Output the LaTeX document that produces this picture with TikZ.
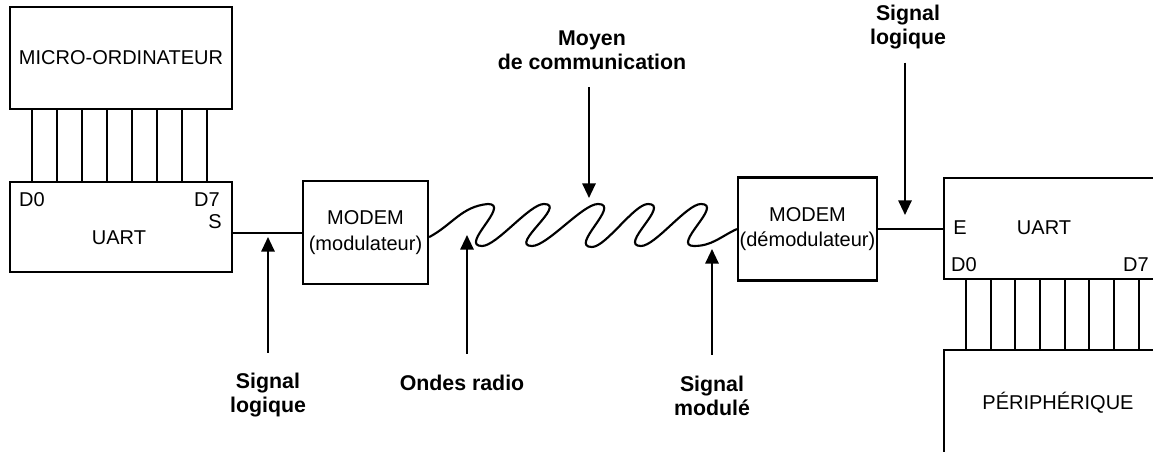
\documentclass[tikz,border=0pt]{standalone}
\usepackage{fontspec}
\setmainfont{Liberation Sans}
\usepackage{tikz}
\usetikzlibrary{positioning,arrows.meta,calc}

\tikzset{
  boite/.style={draw, line width=1.6pt, inner sep=0pt, align=center,
    font=\fontsize{15}{19}\selectfont},
  txt/.style={inner sep=0pt, font=\fontsize{15}{19}\selectfont},
  lbl/.style={inner sep=0pt, align=center, font=\bfseries\fontsize{16}{18}\selectfont},
  fleche/.style={-{Triangle[length=11pt,width=10pt]}, line width=1.5pt},
  bus/.style={line width=1.5pt},
  onde/.style={line width=1.6pt},
  monte/.style={out=0, in=180, looseness=0.5},
  descend/.style={out=0, in=180, looseness=1.4}
}

\begin{document}
\begin{tikzpicture}[x=0.75pt, y=-0.75pt]
    \useasboundingbox (0,0) rectangle (1153,452);
    \clip (0,0) rectangle (1153,452);

    \node[boite, minimum width=166.5pt, minimum height=76.5pt] (micro) at (121,58) {MICRO-ORDINATEUR};
    \node[boite, minimum width=166.5pt, minimum height=67.5pt] (uartA) at (121,227) {};
    \node[txt] (d0A) at (32,200) {D0};
    \node[txt] (d7A) at (207,200) {D7};
    \node[txt] (nomA) at (119,238) {UART};
    \node[txt] (sA) at (215,222) {S};

    \node[boite, minimum width=93.75pt, minimum height=77.25pt] (modemA) at (365.5,232.5) {MODEM\\(modulateur)};
    \node[boite, minimum width=104.25pt, minimum height=77.25pt] (modemB) at (807.5,229) {MODEM\\(démodulateur)};

    \node[boite, minimum width=165.75pt, minimum height=75.75pt] (uartB) at (1054.5,228.5) {};
    \node[txt] (eB) at (960,228) {E};
    \node[txt] (nomB) at (1044,228) {UART};
    \node[txt] (d0B) at (964,265) {D0};
    \node[txt] (d7B) at (1136,265) {D7};
    \node[boite, minimum width=165.75pt, minimum height=82.5pt] (periph) at (1054.5,405) {};
    \node[txt] (nomP) at (1058,403) {PÉRIPHÉRIQUE};

    \foreach \i in {0,...,7}
        \draw[bus] ([xshift={17.25pt+18.75pt*\i}]micro.south west) -- ([xshift={17.25pt+18.75pt*\i}]uartA.north west);
    \foreach \i in {0,...,7}
        \draw[bus] ([xshift={17.25pt+18.5pt*\i}]uartB.south west) -- ([xshift={17.25pt+18.5pt*\i}]periph.north west);

    \coordinate (ligneA) at (232,233);
    \draw[bus] (ligneA) -- (ligneA -| modemA.west);
    \draw[bus] (modemB.east) -- (modemB.east -| uartB.west);

    \draw[onde] ([yshift=-3.5pt]modemA.east) to[out=28, in=185] (488,204)
        to[descend] (482,246) to[monte] (544,204)
        to[descend] (532,246) to[monte] (598,204)
        to[descend] (592,247) to[monte] (648,204)
        to[descend] (641,246) to[monte] (701,204)
        to[descend] (694,246) to[out=0, in=205] (modemB.west);

    \coordinate (pointeA) at (268,237);
    \coordinate (pointeB) at (467,235);
    \coordinate (pointeC) at (712,249);
    \coordinate (pointeM) at (589,198);
    \coordinate (pointeE) at (905,215);

    \node[lbl] (sigA) at (268,395) {Signal\\logique};
    \node[lbl] (ondes) at (462,383) {Ondes radio};
    \node[lbl] (sigC) at (712,396) {Signal\\modulé};
    \node[lbl] (moyen) at (592,50) {Moyen\\de communication};
    \node[lbl] (sigE) at (908,27) {Signal\\logique};

    \draw[fleche, shorten <=15pt] (sigA.north -| pointeA) -- (pointeA);
    \draw[fleche, shorten <=16pt] (ondes.north -| pointeB) -- (pointeB);
    \draw[fleche, shorten <=16pt] (sigC.north -| pointeC) -- (pointeC);
    \draw[fleche, shorten <=13pt] (moyen.south -| pointeM) -- (pointeM);
    \draw[fleche, shorten <=10pt] (sigE.south -| pointeE) -- (pointeE);
\end{tikzpicture}
\end{document}
